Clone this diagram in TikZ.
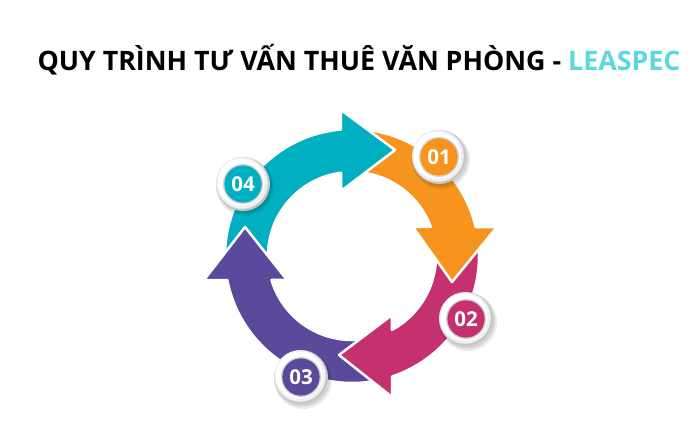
\documentclass[tikz,border=0pt]{standalone}
\usepackage{fontspec}
\setmainfont{Open Sans}
\usetikzlibrary{calc}
\definecolor{cteal}{HTML}{00AFC1}
\definecolor{corange}{HTML}{F7941D}
\definecolor{cmagenta}{HTML}{C5306F}
\definecolor{cpurple}{HTML}{5B4A9B}
\definecolor{ccyan}{HTML}{5CD8E0}
\def\Ro{127}
\def\Ri{84}
\begin{document}
\begin{tikzpicture}[x=1pt,y=-1pt,
  arrowshape/.style={draw=white, line width=2.5pt, line join=round},
  badgenum/.style={text=white, font=\bfseries\fontsize{20.5}{20.5}\selectfont, inner sep=0pt}]
\useasboundingbox (0,0) rectangle (700,438);
\coordinate (C) at (352,256);
\def\tealpath{($(C)+(-185:\Ro)$) arc[start angle=-185,end angle=-95,radius=\Ro]
  -- (341,110) -- (395,150) -- (341,191) -- ($(C)+(-97.5:\Ri)$)
  arc[start angle=-97.5,end angle=-185,radius=\Ri] -- cycle}
% title
\node[font=\bfseries\fontsize{26.8}{26.8}\selectfont, inner sep=0pt] (title) at (359,60)
  {QUY TRÌNH TƯ VẤN THUÊ VĂN PHÒNG - \textcolor{ccyan}{LEASPEC}};
% teal (04)
\path[arrowshape, fill=cteal] \tealpath;
% purple (03)
\path[arrowshape, fill=cpurple] ($(C)+(76:\Ro)$) arc[start angle=76,end angle=169.1,radius=\Ro]
  -- (204,280) -- (245,227) -- (287,280) -- ($(C)+(163.4:\Ri)$)
  arc[start angle=163.4,end angle=76,radius=\Ri] -- cycle;
% magenta (02)
\path[arrowshape, fill=cmagenta] ($(C)+(-8:\Ro)$) arc[start angle=-8,end angle=71.6,radius=\Ro]
  -- (392,397) -- (339,355) -- (392,315) -- ($(C)+(61.6:\Ri)$)
  arc[start angle=61.6,end angle=-8,radius=\Ri] -- cycle;
% orange (01)
\path[arrowshape, fill=corange] ($(C)+(-85:\Ro)$) arc[start angle=-85,end angle=-13.2,radius=\Ro]
  -- (497,227) -- (452,282) -- (413,227) -- ($(C)+(-20.2:\Ri)$)
  arc[start angle=-20.2,end angle=-85,radius=\Ri] -- cycle;
% teal head on top of orange tail
\begin{scope}
  \clip (338,95) rectangle (420,205);
  \path[arrowshape, fill=cteal] \tealpath;
\end{scope}
% badges
\foreach \bn/\bx/\by/\col/\num in {b1/439/157/corange/01,b2/466/319/cmagenta/02,b3/301/377/cpurple/03,b4/243/184/cteal/04} {
  \coordinate (\bn) at (\bx,\by);
  \fill[black, opacity=0.08] ($(\bn)+(2,3)$) circle (29);
  \fill[black, opacity=0.10] ($(\bn)+(1.5,2)$) circle (27.5);
  \fill[gray!45] (\bn) circle (27);
  \fill[gray!12] ($(\bn)+(-1,-1)$) circle (25.8);
  \fill[white] ($(\bn)+(-1.8,-1.8)$) circle (23.5);
  \fill[gray!35] (\bn) circle (20);
  \fill[\col] (\bn) circle (18.6);
  \node[badgenum] (\bn n) at (\bn) {\num};
}
\end{tikzpicture}
\end{document}
